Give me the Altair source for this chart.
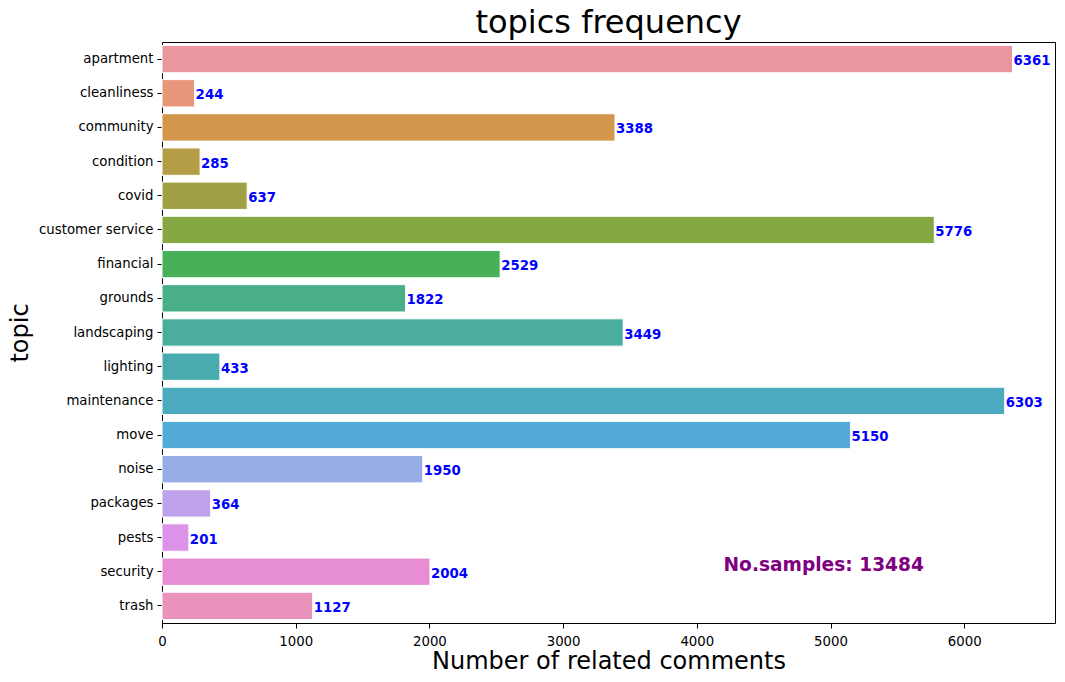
import altair as alt
import pandas as pd

topics = ["apartment", "cleanliness", "community", "condition", "covid",
          "customer service", "financial", "grounds", "landscaping", "lighting",
          "maintenance", "move", "noise", "packages", "pests", "security", "trash"]
counts = [6361, 244, 3388, 285, 637, 5776, 2529, 1822, 3449, 433,
          6303, 5150, 1950, 364, 201, 2004, 1127]
colors = ["#E9969F", "#E8967A", "#D2974B", "#B59C47", "#A0A044", "#85A845",
          "#47B058", "#4AAF87", "#4AAD9D", "#4AABAE", "#4DABBF", "#53ABD9",
          "#98ACE6", "#BFA2EA", "#DB92E8", "#E68DD4", "#E992BC"]
x_ticks = [0, 1000, 2000, 3000, 4000, 5000, 6000]
n_samples = 13484

df = pd.DataFrame({"topic": topics, "count": counts})

FONT = "DejaVu Sans"
xscale = alt.Scale(domain=[0, 6679], nice=False, zero=True)
yscale = alt.Scale(domain=topics, paddingInner=0.2, paddingOuter=0.1)

bars = alt.Chart(df).mark_bar(stroke="white", strokeWidth=1).encode(
    x=alt.X("count:Q", scale=xscale,
            axis=alt.Axis(values=x_ticks, format="d", title="Number of related comments",
                          grid=False, labelFontSize=13.3, titleFontSize=24,
                          labelFont=FONT, titleFont=FONT, labelFlush=False,
                          titleFontWeight="normal", labelColor="black",
                          titleColor="black", domain=False, tickColor="black",
                          tickSize=5, labelPadding=6, titlePadding=2)),
    y=alt.Y("topic:N", scale=yscale, sort=topics,
            axis=alt.Axis(title="topic", labelFontSize=13.3, titleFontSize=24,
                          labelFont=FONT, titleFont=FONT,
                          titleFontWeight="normal", labelColor="black",
                          titleColor="black", domain=False, tickColor="black",
                          tickSize=5, labelPadding=4, titlePadding=6)),
    color=alt.Color("topic:N", scale=alt.Scale(domain=topics, range=colors), legend=None),
)

labels = alt.Chart(df).mark_text(align="left", baseline="middle", dx=1, dy=2,
                                 fontWeight="bold", fontSize=13.3, color="blue",
                                 font=FONT).encode(
    x=alt.X("count:Q", scale=xscale),
    y=alt.Y("topic:N", scale=yscale, sort=topics),
    text=alt.Text("count:Q", format="d"),
)

ann_df = pd.DataFrame({"x": [4200], "label": [f"No.samples: {n_samples}"]})
ann = alt.Chart(ann_df).mark_text(align="left", baseline="middle", fontWeight="bold",
                                  fontSize=18.6, color="purple", font=FONT).encode(
    x=alt.X("x:Q", scale=xscale),
    y=alt.value(523),
    text="label:N",
)

chart = alt.layer(bars, labels, ann).properties(
    width=893, height=581,
    title=alt.TitleParams("topics frequency", fontSize=32, fontWeight="normal",
                          color="black", font=FONT, offset=2),
    autosize=alt.AutoSizeParams(type="none"),
    padding={"left": 162, "top": 42, "right": 10, "bottom": 59},
    background="white",
).configure_view(stroke="black", strokeWidth=1)

chart.save("out.html", embed_options={"renderer": "svg", "actions": False})
